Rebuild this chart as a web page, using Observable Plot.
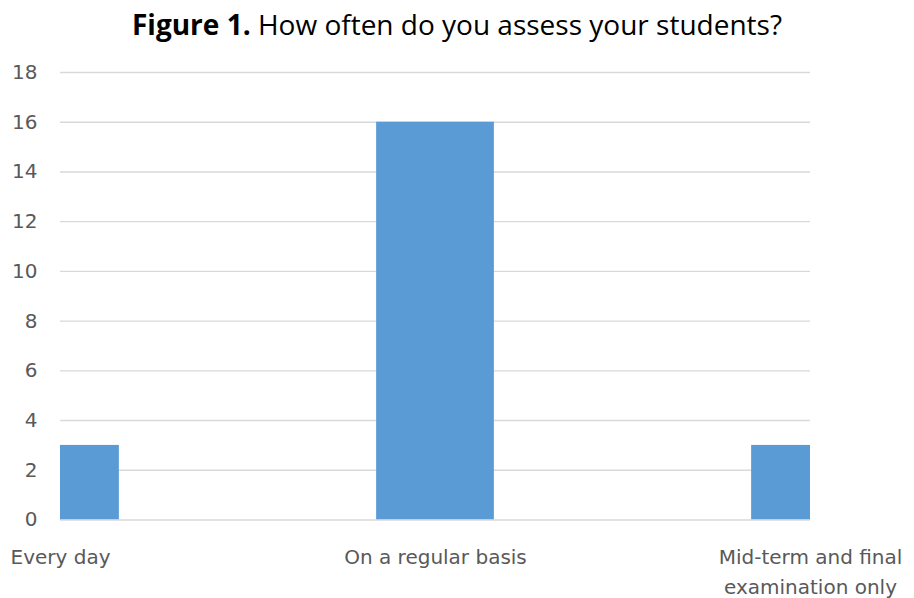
<!DOCTYPE html>
<html>
<head>
<meta charset="utf-8">
<script src="https://cdn.jsdelivr.net/npm/d3@7"></script>
<script src="https://cdn.jsdelivr.net/npm/@observablehq/plot@0.6"></script>
<style>
  body { margin: 0; background: #fff; }
  #title {
    width: 914px; height: 42px; padding-top: 10px;
    text-align: center; font-family: "Open Sans", sans-serif;
    font-size: 28px; line-height: 28px; color: #000;
    white-space: nowrap;
  }
  #title b { font-weight: 700; }
</style>
</head>
<body>
<div id="title"><b>Figure 1.</b> How often do you assess your students?</div>
<div id="chart"></div>
<script>
// Survey answers: how often teachers assess their students
const categories = ["Every day", "On a regular basis", "Mid-term and final\nexamination only"];
const counts = [3, 16, 3];
const yTicks = [0, 2, 4, 6, 8, 10, 12, 14, 16, 18];

const rows = categories.map((c, i) => ({category: c, pos: i, count: counts[i]}));
const halfBar = 0.157; // half the bar width, in category units

const chart = Plot.plot({
  width: 914,
  height: 546,
  marginLeft: 60,
  marginRight: 104,
  marginTop: 20,
  marginBottom: 78.5,
  style: {fontFamily: "DejaVu Sans, sans-serif", fontSize: "20px", color: "#595959", background: "#fff"},
  x: {type: "linear", domain: [0, 2], axis: null},
  y: {domain: [0, 18], ticks: yTicks, label: null},
  marks: [
    Plot.gridY(yTicks, {stroke: "#d9d9d9", strokeOpacity: 1, strokeWidth: 1.4}),
    Plot.axisY(yTicks, {tickSize: 0, tickPadding: 23, label: null, fill: "#595959", fontSize: 20}),
    Plot.rectY(rows, {
      x1: d => d.pos - halfBar,
      x2: d => d.pos + halfBar,
      y: "count",
      fill: "#5b9bd5",
      clip: true
    }),
    Plot.text(rows, {
      x: "pos",
      y: 0,
      text: "category",
      lineAnchor: "top",
      lineHeight: 1.52,
      dy: 22,
      fill: "#595959",
      fontSize: 20
    })
  ]
});
document.getElementById("chart").appendChild(chart);
</script>
</body>
</html>
